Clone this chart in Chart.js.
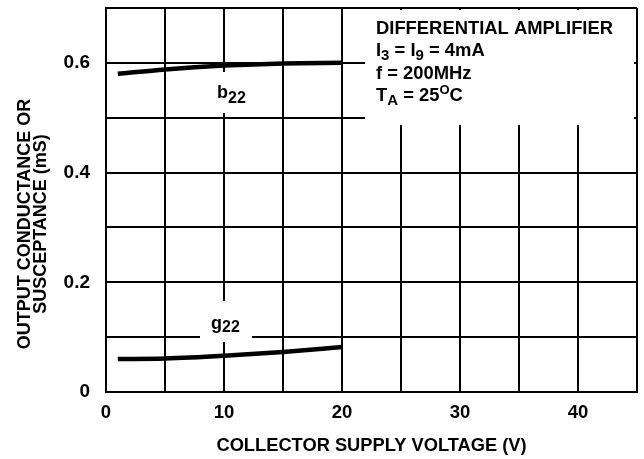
<!DOCTYPE html>
<html>
<head>
<meta charset="utf-8">
<script src="https://cdn.jsdelivr.net/npm/chart.js@4/dist/chart.umd.min.js"></script>
<style>
  html, body { margin: 0; padding: 0; background: #fff; }
  #wrap { width: 644px; height: 459px; }
</style>
</head>
<body>
<div id="wrap"><canvas id="myChart" width="644" height="459"></canvas></div>
<script>
//DATOS
const voltage = [1, 5, 10, 15, 20];
const b22 = [0.58, 0.588, 0.595, 0.599, 0.6];
const g22 = [0.06, 0.061, 0.066, 0.073, 0.082];
const yLabeled = [0, 0.2, 0.4, 0.6];
const xLabeled = [0, 10, 20, 30, 40];

const FONT = "'Liberation Sans', Arial, sans-serif";

function puntos(xs, ys) {
  return xs.map((x, i) => ({ x: x, y: ys[i] }));
}

// draws text with a subscript / superscript part, returns end x
function textoPartes(ctx, partes, x, y) {
  partes.forEach((p) => {
    ctx.font = "bold " + p.size + "px " + FONT;
    ctx.fillText(p.t, x, y + (p.dy || 0));
    x += ctx.measureText(p.t).width;
  });
  return x;
}

const anotaciones = {
  id: "anotaciones",
  beforeDatasetsDraw(chart) {
    const ctx = chart.ctx;
    const xs = chart.scales.x, ys = chart.scales.y;
    ctx.save();
    ctx.fillStyle = "#fff";
    // conditions box
    const bx = xs.getPixelForValue(21.95), by = chart.chartArea.top + 2;
    ctx.fillRect(bx, by, chart.chartArea.right - 3 - bx, ys.getPixelForValue(0.487) - by);
    // b22 label
    ctx.fillRect(205, 72, 50, 41);
    // g22 label
    ctx.fillRect(200, 301, 52, 41);
    ctx.restore();
  },
  afterDraw(chart) {
    const ctx = chart.ctx;
    ctx.save();
    ctx.fillStyle = "#000";
    ctx.textBaseline = "alphabetic";
    ctx.textAlign = "left";

    // curve labels
    textoPartes(ctx, [{ t: "b", size: 18 }, { t: "22", size: 16, dy: 5 }], 217, 98);
    textoPartes(ctx, [{ t: "g", size: 18 }, { t: "22", size: 16, dy: 3 }], 211, 329);

    // conditions
    const x0 = 376;
    textoPartes(ctx, [{ t: "DIFFERENTIAL AMPLIFIER", size: 18.4 }], x0, 34);
    textoPartes(ctx, [
      { t: "I", size: 18.4 }, { t: "3", size: 15, dy: 4 },
      { t: " = I", size: 18.4 }, { t: "9", size: 15, dy: 4 },
      { t: " = 4mA", size: 18.4 }
    ], x0, 56);
    textoPartes(ctx, [{ t: "f = 200MHz", size: 18.4 }], x0, 79);
    textoPartes(ctx, [
      { t: "T", size: 18.4 }, { t: "A", size: 15, dy: 4 },
      { t: " = 25", size: 18.4 }, { t: "O", size: 13, dy: -7 },
      { t: "C", size: 18.4 }
    ], x0, 101);

    // axis titles
    ctx.font = "bold 18.3px " + FONT;
    ctx.textAlign = "center";
    ctx.textBaseline = "middle";
    const cx = (chart.chartArea.left + chart.chartArea.right) / 2;
    ctx.fillText("COLLECTOR SUPPLY VOLTAGE (V)", cx, 446);
    ctx.font = "bold 18px " + FONT;
    ctx.translate(33, 224);
    ctx.rotate(-Math.PI / 2);
    ctx.fillText("OUTPUT CONDUCTANCE OR", 0, -8);
    ctx.fillText("SUSCEPTANCE (mS)", 0, 8);
    ctx.restore();
  }
};

const data = {
  datasets: [
    {
      label: "b22",
      data: puntos(voltage, b22),
      borderColor: "#000",
      borderWidth: 4.5,
      pointRadius: 0,
      showLine: true,
      cubicInterpolationMode: "monotone",
      borderCapStyle: "butt"
    },
    {
      label: "g22",
      data: puntos(voltage, g22),
      borderColor: "#000",
      borderWidth: 4.5,
      pointRadius: 0,
      showLine: true,
      cubicInterpolationMode: "monotone",
      borderCapStyle: "butt"
    }
  ]
};

const config = {
  type: "scatter",
  data: data,
  plugins: [anotaciones],
  options: {
    responsive: false,
    animation: false,
    layout: { padding: { left: 0, right: 7, top: 8, bottom: 0 } },
    plugins: {
      legend: { display: false },
      tooltip: { enabled: false }
    },
    scales: {
      x: {
        type: "linear",
        min: 0,
        max: 45,
        ticks: {
          stepSize: 5,
          padding: 10,
          color: "#000",
          font: { family: FONT, size: 18.5, weight: "bold" },
          maxRotation: 0,
          callback: (v) => (xLabeled.includes(v) ? String(v) : "")
        },
        grid: { color: "#000", lineWidth: 2, drawTicks: false },
        border: { color: "#000", width: 2 },
        afterFit: (s) => { s.height = 67; s.paddingLeft = 0; s.paddingRight = 0; }
      },
      y: {
        type: "linear",
        min: 0,
        max: 0.7,
        ticks: {
          stepSize: 0.1,
          padding: 16,
          color: "#000",
          font: { family: FONT, size: 19, weight: "bold" },
          callback: (v) => {
            const r = Math.round(v * 10) / 10;
            if (!yLabeled.includes(r)) return "";
            return r === 0 ? "0" : r.toFixed(1);
          }
        },
        grid: { color: "#000", lineWidth: 2, drawTicks: false },
        border: { color: "#000", width: 2 },
        afterFit: (s) => { s.width = 106; s.paddingTop = 0; s.paddingBottom = 0; }
      }
    }
  }
};

const myChart = new Chart(document.getElementById("myChart"), config);
</script>
</body>
</html>
